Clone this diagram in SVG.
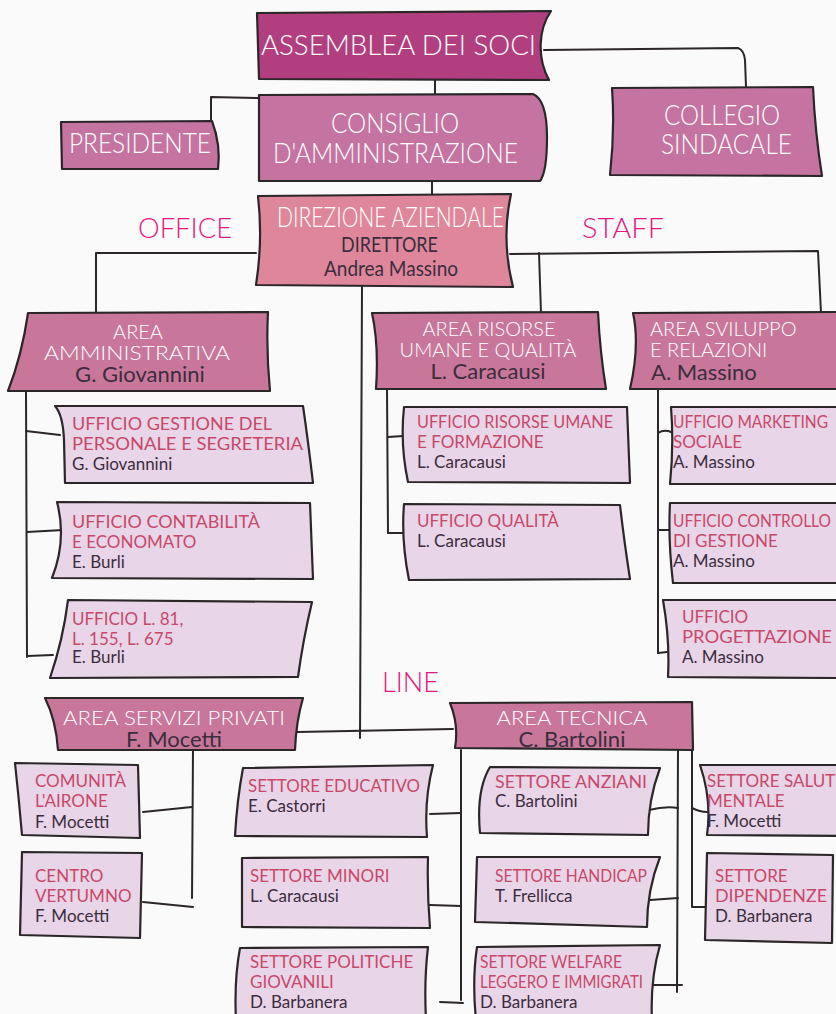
<svg xmlns="http://www.w3.org/2000/svg" width="836" height="1014" viewBox="0 0 836 1014">
<style>
.bx{stroke:#2b2628;stroke-width:2.2;stroke-linejoin:round}
.c1{fill:#b13f7f}
.c2{fill:#c573a0}
.c3{fill:#df879a}
.c4{fill:#c8779a}
.c5{fill:#e8d5e7}
.cn{fill:none;stroke:#2b2628;stroke-width:2;stroke-linecap:round;stroke-linejoin:round}
text{font-family:Lato,"Open Sans","DejaVu Sans",sans-serif}
.hd{fill:#ffffff;font-size:28px;font-weight:300}
.hn{fill:#3b2d3e;font-size:21px;font-weight:normal}
.lb{fill:#e3177d;font-size:28px;font-weight:300}
.aw{fill:#ffffff;font-size:20px;font-weight:300}
.an{fill:#3b2d3e;font-size:22px}
.pk{fill:#c8486a;font-size:17px}
.sn{fill:#3b2d3e;font-size:17px}
</style>
<rect x="0" y="0" width="836" height="1014" fill="#fafafa"/>

<g id="connectors">
<path class="cn" d="M544,50 L738,48 Q744,50 745,60 L746,87"/>
<path class="cn" d="M435,80 L435,94"/>
<path class="cn" d="M259,98 L211,97 L211,121"/>
<path class="cn" d="M432,181 L432,195"/>
<path class="cn" d="M256,253 L96,253 L96,313"/>
<path class="cn" d="M510,254 L818,251 L821,313"/>
<path class="cn" d="M539,253 L541,313"/>
<path class="cn" d="M362,287 L360,738"/>
<path class="cn" d="M297,732 L453,729"/>
<path class="cn" d="M26,391 L27,657"/>
<path class="cn" d="M26,431 L60,435"/>
<path class="cn" d="M27,532 L63,530"/>
<path class="cn" d="M27,656 L53,655"/>
<path class="cn" d="M387,389 L388,533"/>
<path class="cn" d="M388,437 L403,436"/>
<path class="cn" d="M388,533 L404,533"/>
<path class="cn" d="M658,389 L658,653"/>
<path class="cn" d="M658,433 Q664,429 671,432"/>
<path class="cn" d="M658,530 L671,530"/>
<path class="cn" d="M658,653 L667,652"/>
<path class="cn" d="M193,750 L192,898"/>
<path class="cn" d="M143,812 L192,807"/>
<path class="cn" d="M143,902 L193,907"/>
<path class="cn" d="M461,750 L461,1000"/>
<path class="cn" d="M430,814 L461,813"/>
<path class="cn" d="M430,905 L461,906"/>
<path class="cn" d="M440,1002 L463,1003"/>
<path class="cn" d="M678,750 L677,992"/>
<path class="cn" d="M649,810 Q665,806 678,808"/>
<path class="cn" d="M650,900 L678,898"/>
<path class="cn" d="M652,985 L682,985"/>
<path class="cn" d="M692,750 L692,907 L707,907"/>
<path class="cn" d="M692,808 Q700,812 707,812"/>
</g>

<g id="n-assemblea">
<path class="bx c1" d="M257,13 L551,11 C538,30 537,58 549,80 L259,79 Z"/>
<text class="hd" x="261" y="55" font-size="31" textLength="275" lengthAdjust="spacingAndGlyphs">ASSEMBLEA DEI SOCI</text>
</g>
<g id="n-collegio">
<path class="bx c2" d="M612,88 L813,87 Q815,132 822,176 L610,175 Q615,130 612,88 Z"/>
<text class="hd" x="664" y="125" textLength="116" lengthAdjust="spacingAndGlyphs">COLLEGIO</text>
<text class="hd" x="661" y="154" textLength="131" lengthAdjust="spacingAndGlyphs">SINDACALE</text>
</g>
<g id="n-consiglio">
<path class="bx c2" d="M259,95 L533,94 Q547,100 547,137 Q547,172 540,181 L259,181 Z"/>
<text class="hd" x="331" y="133" textLength="128" lengthAdjust="spacingAndGlyphs">CONSIGLIO</text>
<text class="hd" x="273" y="163" textLength="245" lengthAdjust="spacingAndGlyphs">D'AMMINISTRAZIONE</text>
</g>
<g id="n-presidente">
<path class="bx c2" d="M61,122 L212,121 Q221,145 218,169 L62,169 Z"/>
<text class="hd" x="69" y="153" font-size="29" textLength="142" lengthAdjust="spacingAndGlyphs">PRESIDENTE</text>
</g>
<g id="n-direzione">
<path class="bx c3" d="M258,196 L511,194 Q501,240 513,287 L256,285 Q263,240 258,196 Z"/>
<text class="hd" x="277" y="227" font-size="25" textLength="227" lengthAdjust="spacingAndGlyphs">DIREZIONE AZIENDALE</text>
<text class="hn" x="341" y="252" textLength="97" lengthAdjust="spacingAndGlyphs">DIRETTORE</text>
<text class="hn" x="324" y="276" textLength="134" lengthAdjust="spacingAndGlyphs">Andrea Massino</text>
</g>
<g id="labels">
<text class="lb" x="138" y="238" textLength="94" lengthAdjust="spacingAndGlyphs">OFFICE</text>
<text class="lb" x="582" y="238" textLength="82" lengthAdjust="spacingAndGlyphs">STAFF</text>
<text class="lb" x="382" y="692" textLength="57" lengthAdjust="spacingAndGlyphs">LINE</text>
</g>

<g id="n-area-amm">
<path class="bx c4" d="M28,313 L268,312 Q266,350 270,391 L8,391 Q22,355 28,313 Z"/>
<text class="aw" x="138" y="339" text-anchor="middle">AREA</text>
<text class="aw" x="137" y="360" text-anchor="middle" textLength="186" lengthAdjust="spacingAndGlyphs">AMMINISTRATIVA</text>
<text class="an" x="140" y="382" text-anchor="middle">G. Giovannini</text>
</g>
<g id="n-area-ris">
<path class="bx c4" d="M372,313 L598,312 Q600,352 606,389 L376,389 Q379,345 372,313 Z"/>
<text class="aw" x="489" y="336" text-anchor="middle">AREA RISORSE</text>
<text class="aw" x="488" y="357" text-anchor="middle">UMANE E QUALITÀ</text>
<text class="an" x="488" y="379" text-anchor="middle">L. Caracausi</text>
</g>
<g id="n-area-svi">
<path class="bx c4" d="M633,313 L840,312 L840,389 L630,389 Q640,345 633,313 Z"/>
<text class="aw" x="650" y="336">AREA SVILUPPO</text>
<text class="aw" x="650" y="357">E RELAZIONI</text>
<text class="an" x="651" y="380">A. Massino</text>
</g>

<g id="n-uff-gestione">
<path class="bx c5" d="M55,406 L303,406 Q308,440 313,483 L65,483 L64,440 Q63,415 55,406 Z"/>
<text class="pk" x="72" y="430" textLength="200" lengthAdjust="spacingAndGlyphs">UFFICIO GESTIONE DEL</text>
<text class="pk" x="72" y="450" textLength="231" lengthAdjust="spacingAndGlyphs">PERSONALE E SEGRETERIA</text>
<text class="sn" x="72" y="470">G. Giovannini</text>
</g>
<g id="n-uff-contabilita">
<path class="bx c5" d="M57,502 L310,503 L313,579 L52,578 Q67,540 57,502 Z"/>
<text class="pk" x="72" y="528" textLength="188" lengthAdjust="spacingAndGlyphs">UFFICIO CONTABILITÀ</text>
<text class="pk" x="72" y="548">E ECONOMATO</text>
<text class="sn" x="72" y="568">E. Burli</text>
</g>
<g id="n-uff-legge">
<path class="bx c5" d="M68,600 L312,602 Q303,640 298,677 L50,678 Q63,640 68,600 Z"/>
<text class="pk" x="72" y="625">UFFICIO L. 81,</text>
<text class="pk" x="72" y="645">L. 155, L. 675</text>
<text class="sn" x="72" y="663">E. Burli</text>
</g>
<g id="n-uff-risorse">
<path class="bx c5" d="M404,407 L627,407 L630,483 L408,482 Q400,445 404,407 Z"/>
<text class="pk" x="417" y="428" textLength="196" lengthAdjust="spacingAndGlyphs">UFFICIO RISORSE UMANE</text>
<text class="pk" x="417" y="448">E FORMAZIONE</text>
<text class="sn" x="417" y="468">L. Caracausi</text>
</g>
<g id="n-uff-qualita">
<path class="bx c5" d="M404,504 L620,505 Q624,540 630,579 L409,580 Q401,540 404,504 Z"/>
<text class="pk" x="417" y="527">UFFICIO QUALITÀ</text>
<text class="sn" x="417" y="547">L. Caracausi</text>
</g>
<g id="n-uff-marketing">
<path class="bx c5" d="M671,407 L840,407 L840,484 L670,484 Q674,445 671,407 Z"/>
<text class="pk" x="673" y="428" textLength="155" lengthAdjust="spacingAndGlyphs">UFFICIO MARKETING</text>
<text class="pk" x="673" y="448">SOCIALE</text>
<text class="sn" x="673" y="468">A. Massino</text>
</g>
<g id="n-uff-controllo">
<path class="bx c5" d="M670,503 L840,503 L840,583 L673,583 Q668,540 670,503 Z"/>
<text class="pk" x="673" y="527" textLength="158" lengthAdjust="spacingAndGlyphs">UFFICIO CONTROLLO</text>
<text class="pk" x="673" y="547">DI GESTIONE</text>
<text class="sn" x="673" y="567">A. Massino</text>
</g>
<g id="n-uff-progettazione">
<path class="bx c5" d="M663,600 L840,600 L840,678 L668,677 Q670,640 663,600 Z"/>
<text class="pk" x="682" y="623">UFFICIO</text>
<text class="pk" x="682" y="643" textLength="150" lengthAdjust="spacingAndGlyphs">PROGETTAZIONE</text>
<text class="sn" x="682" y="663">A. Massino</text>
</g>

<g id="n-area-servizi">
<path class="bx c4" d="M45,698 L303,698 Q296,722 295,750 L58,750 Q56,720 45,698 Z"/>
<text class="aw" x="174" y="725" text-anchor="middle" textLength="222" lengthAdjust="spacingAndGlyphs">AREA SERVIZI PRIVATI</text>
<text class="an" x="174" y="747" text-anchor="middle">F. Mocetti</text>
</g>
<g id="n-area-tecnica">
<path class="bx c4" d="M450,703 L692,702 L693,750 L455,748 Q459,725 450,703 Z"/>
<text class="aw" x="572" y="725" text-anchor="middle" textLength="151" lengthAdjust="spacingAndGlyphs">AREA TECNICA</text>
<text class="an" x="572" y="747" text-anchor="middle">C. Bartolini</text>
</g>

<g id="n-comunita">
<path class="bx c5" d="M15,763 L138,765 L140,838 L22,835 Q19,800 15,763 Z"/>
<text class="pk" x="35" y="787">COMUNITÀ</text>
<text class="pk" x="35" y="807">L'AIRONE</text>
<text class="sn" x="35" y="828">F. Mocetti</text>
</g>
<g id="n-centro">
<path class="bx c5" d="M22,852 L142,853 L140,938 L20,935 Z"/>
<text class="pk" x="35" y="882">CENTRO</text>
<text class="pk" x="35" y="902">VERTUMNO</text>
<text class="sn" x="35" y="922">F. Mocetti</text>
</g>
<g id="n-educativo">
<path class="bx c5" d="M243,768 L433,765 Q424,800 427,837 L235,836 Q237,800 243,768 Z"/>
<text class="pk" x="248" y="792" textLength="172" lengthAdjust="spacingAndGlyphs">SETTORE EDUCATIVO</text>
<text class="sn" x="248" y="812">E. Castorri</text>
</g>
<g id="n-minori">
<path class="bx c5" d="M242,858 L428,857 Q427,892 430,928 L242,927 Z"/>
<text class="pk" x="250" y="882">SETTORE MINORI</text>
<text class="sn" x="250" y="902">L. Caracausi</text>
</g>
<g id="n-politiche">
<path class="bx c5" d="M240,948 L428,947 Q424,980 426,1020 L236,1020 Q234,980 240,948 Z"/>
<text class="pk" x="250" y="968">SETTORE POLITICHE</text>
<text class="pk" x="250" y="988">GIOVANILI</text>
<text class="sn" x="250" y="1008">D. Barbanera</text>
</g>
<g id="n-anziani">
<path class="bx c5" d="M490,767 L660,768 Q648,800 648,835 L480,833 Q476,790 490,767 Z"/>
<text class="pk" x="495" y="788" textLength="152" lengthAdjust="spacingAndGlyphs">SETTORE ANZIANI</text>
<text class="sn" x="495" y="807">C. Bartolini</text>
</g>
<g id="n-handicap">
<path class="bx c5" d="M477,857 L660,857 Q647,890 647,927 L475,922 Z"/>
<text class="pk" x="495" y="882" textLength="152" lengthAdjust="spacingAndGlyphs">SETTORE HANDICAP</text>
<text class="sn" x="495" y="902">T. Frellicca</text>
</g>
<g id="n-welfare">
<path class="bx c5" d="M477,947 L660,945 Q650,980 652,1020 L476,1020 Q472,980 477,947 Z"/>
<text class="pk" x="480" y="968" textLength="142" lengthAdjust="spacingAndGlyphs">SETTORE WELFARE</text>
<text class="pk" x="480" y="988" textLength="163" lengthAdjust="spacingAndGlyphs">LEGGERO E IMMIGRATI</text>
<text class="sn" x="480" y="1008">D. Barbanera</text>
</g>
<g id="n-salute">
<path class="bx c5" d="M700,765 L840,765 L840,836 L707,835 Q712,800 700,765 Z"/>
<text class="pk" x="707" y="787" textLength="138" lengthAdjust="spacingAndGlyphs">SETTORE SALUTE</text>
<text class="pk" x="707" y="807">MENTALE</text>
<text class="sn" x="707" y="827">F. Mocetti</text>
</g>
<g id="n-dipendenze">
<path class="bx c5" d="M707,853 L833,855 L832,943 L705,940 Z"/>
<text class="pk" x="715" y="882">SETTORE</text>
<text class="pk" x="715" y="902" textLength="112" lengthAdjust="spacingAndGlyphs">DIPENDENZE</text>
<text class="sn" x="715" y="922">D. Barbanera</text>
</g>
</svg>
